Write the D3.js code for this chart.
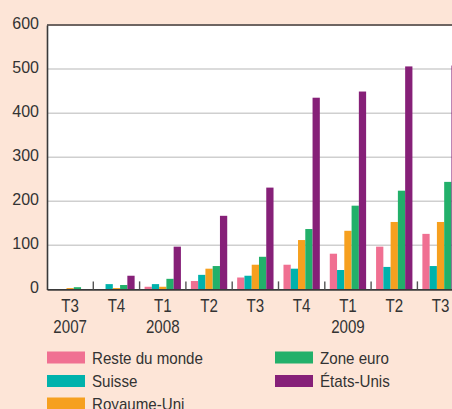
<!DOCTYPE html>
<html>
<head>
<meta charset="utf-8">
<script src="https://cdn.jsdelivr.net/npm/d3@7"></script>
<style>
  body { margin: 0; background: #fde5d7; }
  svg { display: block; }
  text { font-family: "Liberation Sans", Arial, sans-serif; fill: #333; }
</style>
</head>
<body>
<div id="chart"></div>
<script>

// quarters shown on the x axis
var quarters = ["T3 2007", "T4 2007", "T1 2008", "T2 2008", "T3 2008", "T4 2008", "T1 2009", "T2 2009", "T3 2009"];
var quarterLabels = ["T3", "T4", "T1", "T2", "T3", "T4", "T1", "T2", "T3"];
var yearLabels = ["2007", "", "2008", "", "", "", "2009", "", ""];

var seriesNames = ["Reste du monde", "Suisse", "Royaume-Uni", "Zone euro", "États-Unis"];
var seriesColors = ["#f07092", "#00b2ac", "#f6a01f", "#22b06a", "#862078"];

// values, one array per series
var resteDuMonde = [0, 0, 6, 19, 27, 56, 81, 97, 126];
var suisse       = [0, 12, 12, 33, 31, 47, 44, 51, 53];
var royaumeUni   = [3, 3, 6, 47, 56, 112, 133, 153, 153];
var zoneEuro     = [5, 10, 24, 53, 74, 137, 190, 224, 244];
var etatsUnis    = [0, 31, 97, 167, 231, 435, 449, 506, 508];

var yTicks = [0, 100, 200, 300, 400, 500, 600];

var seriesValues = [resteDuMonde, suisse, royaumeUni, zoneEuro, etatsUnis];

var data = quarters.map(function(q, i) {
    return {
        quarter: q,
        values: seriesNames.map(function(name, j) {
            return { name: name, value: seriesValues[j][i], color: seriesColors[j] };
        })
    };
});

var W = 452, H = 409;
var margin = { top: 25, left: 47 };
var plotRight = 47 + 46.3 * quarters.length;   // chart runs past the right edge
var zeroY = 289.4;

// the original uses a condensed face, squeeze Liberation Sans a bit
function narrow(sel, x, y, s) {
    sel.attr("transform", function(d, i) {
        return "translate(" + x(d, i) + "," + y + ") scale(" + s + ",1)";
    });
}

var svg = d3.select("#chart").append("svg")
    .attr("width", W)
    .attr("height", H);

var x0 = d3.scaleBand()
    .domain(quarters)
    .range([margin.left, plotRight])
    .paddingInner(0.215)
    .paddingOuter(0.1075);

var x1 = d3.scaleBand()
    .domain(seriesNames)
    .range([0, x0.bandwidth()]);

var y = d3.scaleLinear()
    .domain([0, 600])
    .range([zeroY, margin.top]);

// white plot area
svg.append("rect")
    .attr("x", margin.left)
    .attr("y", margin.top)
    .attr("width", plotRight - margin.left)
    .attr("height", zeroY - margin.top)
    .attr("fill", "#fff");

// gridlines
svg.selectAll(".grid")
    .data(yTicks.filter(function(d) { return d > 0 && d < 600; }))
    .enter().append("line")
    .attr("class", "grid")
    .attr("x1", margin.left)
    .attr("x2", plotRight)
    .attr("y1", function(d) { return y(d); })
    .attr("y2", function(d) { return y(d); })
    .attr("stroke", "#cfcfcf")
    .attr("stroke-width", 1.5);

// bars
var groups = svg.selectAll(".group")
    .data(data)
    .enter().append("g")
    .attr("class", "group")
    .attr("transform", function(d) { return "translate(" + x0(d.quarter) + ",0)"; });

groups.selectAll("rect")
    .data(function(d) { return d.values; })
    .enter().append("rect")
    .attr("x", function(d) { return x1(d.name); })
    .attr("width", x1.bandwidth())
    .attr("y", function(d) { return y(d.value); })
    .attr("height", function(d) { return y(0) - y(d.value); })
    .attr("fill", function(d) { return d.color; });

// top border
svg.append("line")
    .attr("x1", margin.left)
    .attr("x2", plotRight)
    .attr("y1", y(600))
    .attr("y2", y(600))
    .attr("stroke", "#6e6562")
    .attr("stroke-width", 2.2);

// y axis
var yAxis = d3.axisLeft(y)
    .tickValues(yTicks)
    .tickSize(0)
    .tickPadding(8);

svg.append("g")
    .attr("class", "y-axis")
    .attr("transform", "translate(" + margin.left + ",0)")
    .call(yAxis)
    .call(function(g) {
        g.select(".domain").attr("stroke", "#3a3a3a").attr("stroke-width", 1.6);
        g.selectAll(".tick text")
            .attr("font-size", "16px")
            .attr("font-family", null)
            .attr("fill", "#333")
            .attr("dy", 3);
    });

// x axis: separators between quarters
var step = x0.step();
var xAxis = d3.axisBottom(x0)
    .tickSize(0)
    .tickFormat("");

svg.append("g")
    .attr("class", "x-axis")
    .attr("transform", "translate(0," + zeroY + ")")
    .call(xAxis)
    .call(function(g) {
        g.select(".domain").attr("stroke", "#3a3a3a").attr("stroke-width", 1.6);
    });

svg.selectAll(".sep")
    .data(quarters.slice(1))
    .enter().append("line")
    .attr("class", "sep")
    .attr("x1", function(d) { return x0(d) - step * x0.paddingInner() / 2; })
    .attr("x2", function(d) { return x0(d) - step * x0.paddingInner() / 2; })
    .attr("y1", zeroY - 8)
    .attr("y2", zeroY)
    .attr("stroke", "#555")
    .attr("stroke-width", 1.4);

// quarter and year labels
var bandMid = function(d) { return x0(d) + x0.bandwidth() / 2; };

svg.selectAll(".qlabel")
    .data(quarters)
    .enter().append("text")
    .attr("class", "qlabel")
    .attr("text-anchor", "middle")
    .attr("font-size", "18px")
    .call(narrow, bandMid, 311.5, 0.84)
    .text(function(d, i) { return quarterLabels[i]; });

svg.selectAll(".ylabel")
    .data(quarters)
    .enter().append("text")
    .attr("class", "ylabel")
    .attr("text-anchor", "middle")
    .attr("font-size", "18px")
    .call(narrow, bandMid, 332.5, 0.84)
    .text(function(d, i) { return yearLabels[i]; });

// legend
var legendPos = [[47, 351.5], [47, 375], [47, 397.5], [275, 351.5], [275, 375]];

var legend = svg.selectAll(".legend")
    .data(seriesNames)
    .enter().append("g")
    .attr("class", "legend")
    .attr("transform", function(d, i) { return "translate(" + legendPos[i][0] + "," + legendPos[i][1] + ")"; });

legend.append("rect")
    .attr("width", 38)
    .attr("height", 12)
    .attr("fill", function(d, i) { return seriesColors[i]; });

legend.append("text")
    .attr("font-size", "17px")
    .call(narrow, function() { return 45; }, 12, 0.89)
    .text(function(d) { return d; });

</script>
</body>
</html>
